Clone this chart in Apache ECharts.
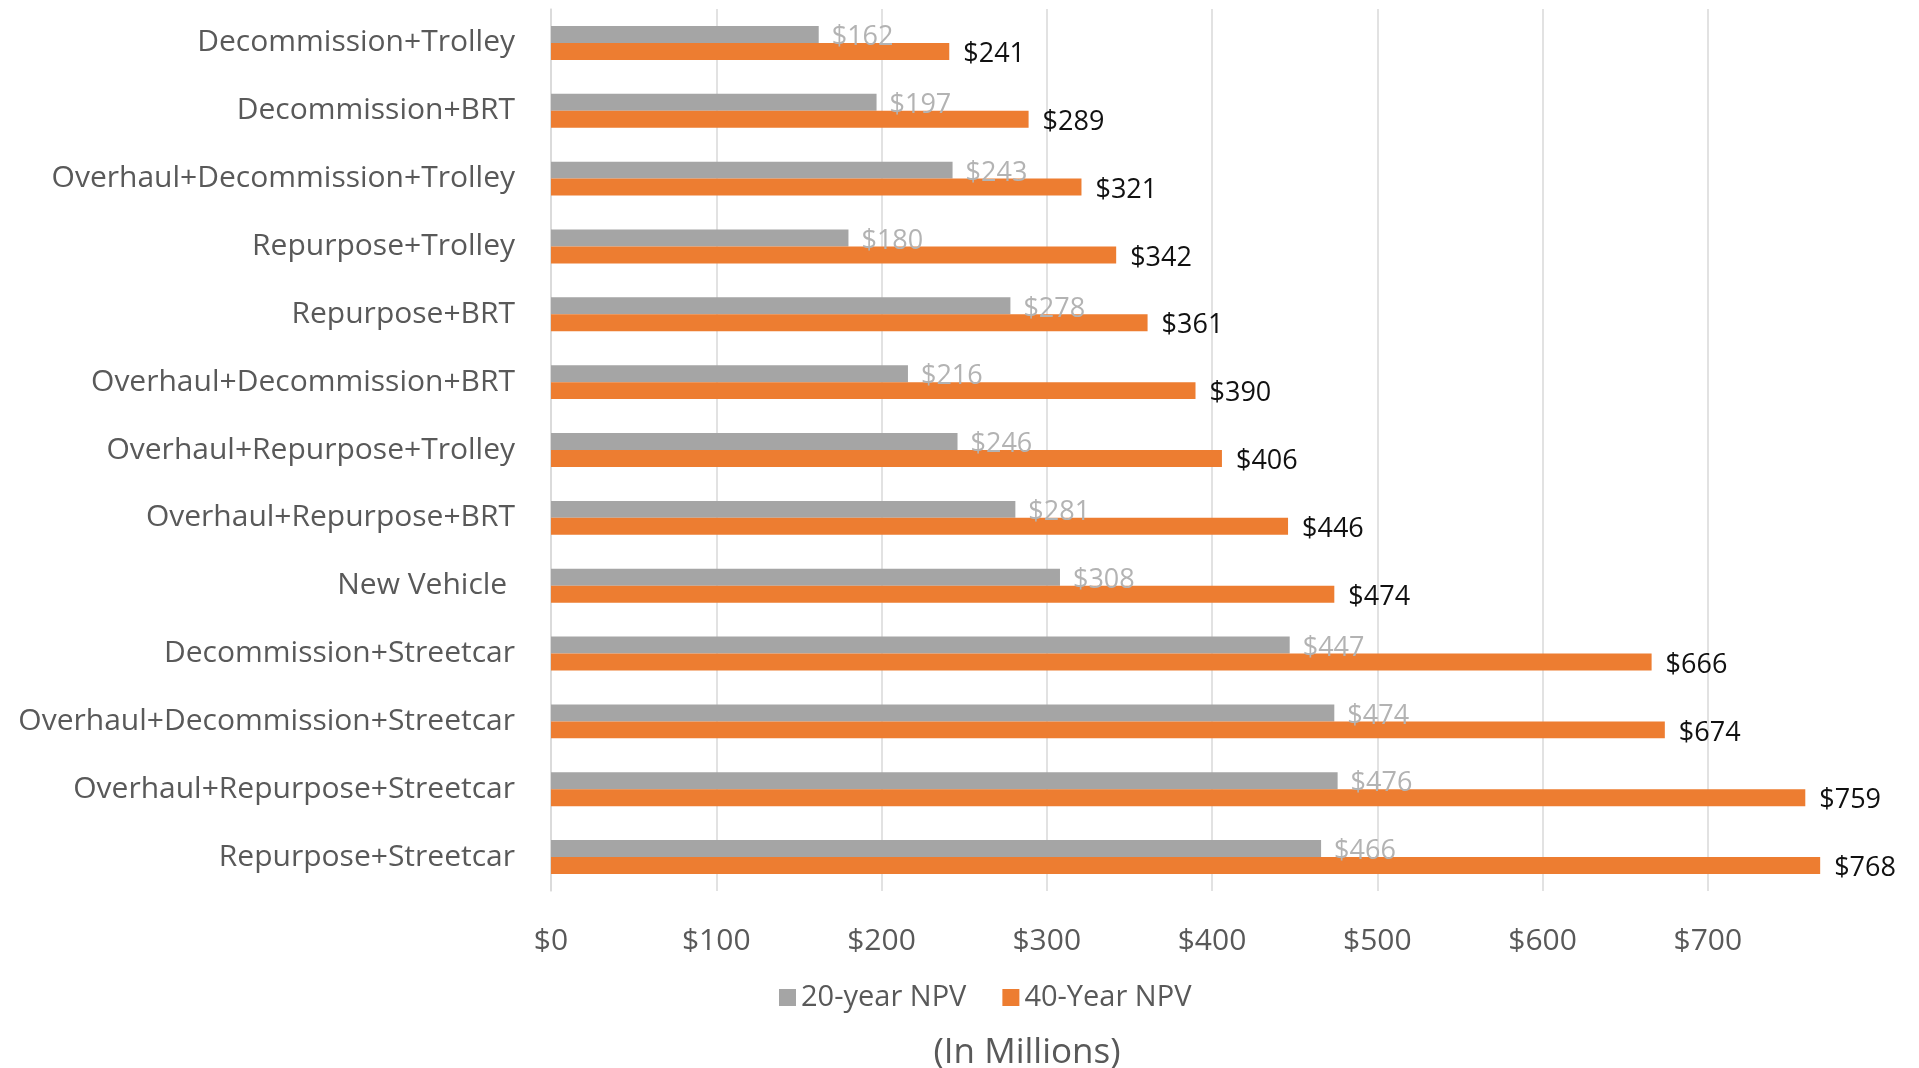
<!DOCTYPE html>
<html>
<head>
<meta charset="utf-8">
<script src="https://cdn.jsdelivr.net/npm/echarts@6/dist/echarts.min.js"></script>
<style>
html,body{margin:0;padding:0;background:#fff;}
#chart{width:1919px;height:1068px;}
</style>
</head>
<body>
<div id="chart"></div>
<script>
const categories = [
  "Decommission+Trolley",
  "Decommission+BRT",
  "Overhaul+Decommission+Trolley",
  "Repurpose+Trolley",
  "Repurpose+BRT",
  "Overhaul+Decommission+BRT",
  "Overhaul+Repurpose+Trolley",
  "Overhaul+Repurpose+BRT",
  "New Vehicle ",
  "Decommission+Streetcar",
  "Overhaul+Decommission+Streetcar",
  "Overhaul+Repurpose+Streetcar",
  "Repurpose+Streetcar"
];
const npv20 = [162, 197, 243, 180, 278, 216, 246, 281, 308, 447, 474, 476, 466];
const npv40 = [241, 289, 321, 342, 361, 390, 406, 446, 474, 666, 674, 759, 768];
const seriesNames = ["20-year NPV", "40-Year NPV"];
const axisTitle = "(In Millions)";

const FONT = "'Open Sans', 'Noto Sans', sans-serif";
const chart = echarts.init(document.getElementById('chart'));
const gridColors = [];
for (let i = 0; i < 8; i++) gridColors.push('#d9d9d9');
gridColors.push('rgba(0,0,0,0)');

chart.setOption({
  animation: false,
  textStyle: { fontFamily: FONT },
  title: {
    text: axisTitle,
    left: 1022, top: 1031,
    textAlign: 'center',
    textStyle: { fontFamily: FONT, fontSize: 35, fontWeight: 'normal', color: '#595959' }
  },
  legend: {
    data: seriesNames,
    left: 774, top: 978,
    itemWidth: 17, itemHeight: 17, itemGap: 36,
    icon: 'rect',
    textStyle: { fontFamily: FONT, fontSize: 29, color: '#595959' }
  },
  grid: { left: 551, right: 79, top: 9, bottom: 177, containLabel: false },
  xAxis: {
    type: 'value',
    min: 0, max: 780, interval: 100,
    axisLine: { show: false },
    axisTick: { show: false },
    splitLine: { show: true, lineStyle: { color: gridColors, width: 1.5 } },
    axisLabel: {
      margin: 35, fontSize: 30, color: '#595959', fontFamily: FONT,
      showMaxLabel: false,
      formatter: v => (v % 100 === 0 ? '$' + v : '')
    }
  },
  yAxis: {
    type: 'category',
    data: categories,
    inverse: true,
    axisLine: { show: true, lineStyle: { color: '#d9d9d9', width: 1.5 } },
    axisTick: { show: false },
    axisLabel: { margin: 36, fontSize: 30, color: '#595959', fontFamily: FONT, padding: [6, 0, 0, 0] }
  },
  series: [
    {
      name: seriesNames[0], type: 'bar', data: npv20,
      barGap: '0%', barCategoryGap: '50%',
      itemStyle: { color: '#a5a5a5' },
      label: { show: true, position: 'right', distance: 13, offset: [0, 3],
        formatter: p => '$' + p.value, fontSize: 27, color: '#b3b3b3', fontFamily: FONT }
    },
    {
      name: seriesNames[1], type: 'bar', data: npv40,
      barGap: '0%', barCategoryGap: '50%',
      itemStyle: { color: '#ed7d31' },
      label: { show: true, position: 'right', distance: 14, offset: [0, 3],
        formatter: p => '$' + p.value, fontSize: 27, color: '#111111', fontFamily: FONT }
    }
  ]
});
</script>
</body>
</html>
